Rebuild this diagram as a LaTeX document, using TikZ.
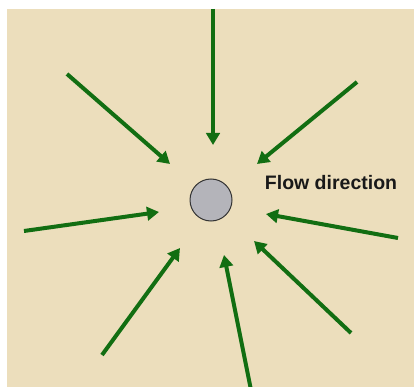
\documentclass[tikz,border=0pt]{standalone}
\usepackage{fontspec}
\setmainfont{Liberation Sans}
\usetikzlibrary{arrows.meta}
\definecolor{parch}{RGB}{236,222,188}
\definecolor{flowgreen}{RGB}{18,110,18}
\definecolor{wellgray}{RGB}{180,180,186}
\tikzset{
  flowarrow/.style={draw=flowgreen, line width=4pt, -{Triangle[length=12pt,width=13.5pt]}},
  wellnode/.style={circle, draw=black!80, line width=1pt, fill=wellgray, minimum size=42pt, inner sep=0pt},
  labeltext/.style={font=\bfseries\fontsize{19.5}{22}\selectfont, text=black!90, inner sep=0pt}
}
\begin{document}
\begin{tikzpicture}[x=1pt,y=-1pt]
\useasboundingbox (0,0) rectangle (414,387);
\fill[white] (0,0) rectangle (414,387);
\fill[parch] (7,9) rectangle (414,387);
\node[wellnode] (well) at (211,200) {};
\node[labeltext] (lbl) at (331,183) {Flow direction};
% start and end coordinates
\coordinate (s1) at (213,9);   \coordinate (e1) at (213,145);
\coordinate (s2) at (67,74);   \coordinate (e2) at (170,164);
\coordinate (s3) at (357,82);  \coordinate (e3) at (257,164);
\coordinate (s4) at (24,231);  \coordinate (e4) at (159,212);
\coordinate (s5) at (398,238); \coordinate (e5) at (266,214);
\coordinate (s6) at (102,355); \coordinate (e6) at (180,248);
\coordinate (s7) at (351,333); \coordinate (e7) at (254,241);
\coordinate (s8) at (251,390); \coordinate (e8) at (224,255);
\foreach \i in {1,...,8} {\draw[flowarrow] (s\i) -- (e\i);}
\end{tikzpicture}
\end{document}
